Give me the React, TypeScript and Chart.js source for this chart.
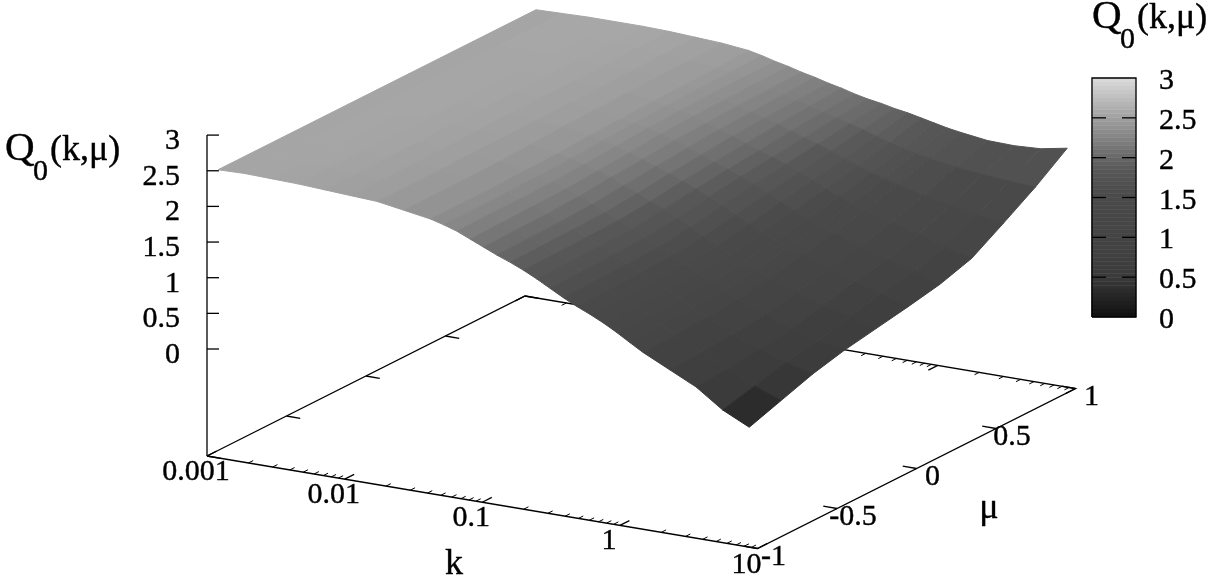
import React from 'react';
import { Chart, registerables } from 'chart.js';

Chart.register(...registerables);

// log10(k) of each grid row and mu of each grid column
const kLog = [-2.92, -2.727, -2.534, -2.341, -2.148, -1.955, -1.762, -1.569, -1.376, -1.28, -1.183, -1.087, -0.99, -0.894, -0.797, -0.7, -0.604, -0.508, -0.411, -0.315, -0.218, -0.12, -0.025, 0.07, 0.168, 0.361, 0.554, 0.747, 0.94];
const muGrid = [-1, -0.8, -0.6, -0.4, -0.2, 0, 0.2, 0.4, 0.6, 0.8, 1];

// Q0(k, mu), one row per kLog entry
const q0 = [
  [2.54, 2.54, 2.54, 2.54, 2.54, 2.54, 2.54, 2.54, 2.54, 2.54, 2.54],
  [2.55, 2.55, 2.55, 2.55, 2.55, 2.55, 2.55, 2.55, 2.55, 2.55, 2.55],
  [2.54, 2.54, 2.54, 2.55, 2.55, 2.55, 2.55, 2.55, 2.56, 2.56, 2.56],
  [2.53, 2.53, 2.54, 2.54, 2.54, 2.55, 2.55, 2.55, 2.55, 2.56, 2.56],
  [2.51, 2.51, 2.52, 2.52, 2.53, 2.53, 2.54, 2.54, 2.55, 2.55, 2.56],
  [2.49, 2.49, 2.5, 2.5, 2.51, 2.52, 2.52, 2.53, 2.53, 2.54, 2.55],
  [2.47, 2.47, 2.47, 2.48, 2.48, 2.49, 2.5, 2.5, 2.51, 2.52, 2.53],
  [2.41, 2.41, 2.41, 2.42, 2.44, 2.46, 2.47, 2.48, 2.49, 2.49, 2.51],
  [2.35, 2.35, 2.35, 2.36, 2.37, 2.4, 2.41, 2.43, 2.44, 2.45, 2.47],
  [2.3, 2.3, 2.31, 2.31, 2.33, 2.36, 2.38, 2.4, 2.41, 2.42, 2.43],
  [2.24, 2.25, 2.25, 2.26, 2.28, 2.31, 2.34, 2.36, 2.37, 2.38, 2.38],
  [2.16, 2.17, 2.18, 2.19, 2.22, 2.25, 2.29, 2.31, 2.32, 2.33, 2.34],
  [2.08, 2.09, 2.1, 2.12, 2.16, 2.19, 2.23, 2.25, 2.27, 2.28, 2.29],
  [2.0, 2.01, 2.02, 2.04, 2.08, 2.12, 2.16, 2.19, 2.21, 2.23, 2.25],
  [1.93, 1.94, 1.95, 1.96, 2.0, 2.05, 2.09, 2.13, 2.16, 2.18, 2.2],
  [1.85, 1.86, 1.87, 1.88, 1.92, 1.98, 2.02, 2.06, 2.1, 2.13, 2.16],
  [1.76, 1.77, 1.78, 1.79, 1.84, 1.9, 1.95, 1.99, 2.04, 2.08, 2.11],
  [1.66, 1.67, 1.68, 1.7, 1.75, 1.82, 1.88, 1.93, 1.98, 2.03, 2.07],
  [1.56, 1.57, 1.58, 1.6, 1.65, 1.73, 1.8, 1.86, 1.92, 1.98, 2.04],
  [1.47, 1.48, 1.49, 1.51, 1.55, 1.63, 1.71, 1.78, 1.85, 1.93, 2.0],
  [1.39, 1.4, 1.41, 1.42, 1.45, 1.53, 1.62, 1.7, 1.78, 1.87, 1.97],
  [1.3, 1.31, 1.32, 1.33, 1.37, 1.45, 1.53, 1.61, 1.71, 1.81, 1.93],
  [1.2, 1.21, 1.22, 1.24, 1.29, 1.37, 1.44, 1.53, 1.64, 1.76, 1.89],
  [1.09, 1.11, 1.12, 1.15, 1.21, 1.3, 1.38, 1.47, 1.59, 1.72, 1.85],
  [0.98, 1, 1.02, 1.06, 1.13, 1.23, 1.31, 1.41, 1.54, 1.68, 1.82],
  [0.8, 0.82, 0.85, 0.9, 0.99, 1.1, 1.19, 1.3, 1.45, 1.62, 1.77],
  [0.62, 0.66, 0.7, 0.77, 0.87, 0.98, 1.07, 1.19, 1.37, 1.58, 1.76],
  [0.36, 0.47, 0.58, 0.67, 0.77, 0.87, 0.96, 1.08, 1.3, 1.55, 1.78],
  [0.18, 0.33, 0.48, 0.59, 0.67, 0.75, 0.84, 0.98, 1.25, 1.53, 1.85],
];

// palette
const paletteZ = [0, 0.5, 1, 1.5, 1.85, 2, 2.5, 3];
const paletteGray = [16, 58, 68, 74, 88, 104, 160, 220];

const zTicks = [0, 0.5, 1, 1.5, 2, 2.5, 3];
const kTicks = [0.001, 0.01, 0.1, 1, 10];
const kMinor = [2, 3, 4, 5, 6, 7, 8, 9];
const muTicks = [-1, -0.5, 0, 0.5, 1];

const serif = '"Liberation Serif", serif';

const gray = (z: number) => {
  let i = 0;
  while (i < paletteZ.length - 2 && z > paletteZ[i + 1]) i++;
  const f = (z - paletteZ[i]) / (paletteZ[i + 1] - paletteZ[i]);
  const g = Math.round(paletteGray[i] + f * (paletteGray[i + 1] - paletteGray[i]));
  return `rgb(${g},${g},${g})`;
};

// gnuplot style view: log k, mu, z to picture pixels
const project = (logK: number, mu: number, z: number) => {
  const t = (logK + 3) / 4;
  const u = (mu + 1) / 2;
  return {
    x: 207 + 550.5 * t + 318 * u,
    y: 349 + 92.5 * t - 160 * u - 71.3 * z,
  };
};
const floor = (logK: number, mu: number) => {
  const p = project(logK, mu, 0);
  return { x: p.x, y: p.y + 107 };
};

const buildDatasets = () => {
  const sets: any[] = [];
  const line = (data: { x: number; y: number }[], width = 1.3) =>
    sets.push({ data, showLine: true, borderColor: '#000', borderWidth: width, pointRadius: 0, fill: false });
  const poly = (data: { x: number; y: number }[], color: string, edge = 1) =>
    sets.push({ data, showLine: true, fill: 'shape', backgroundColor: color, borderColor: color, borderWidth: edge, pointRadius: 0 });

  // floor
  const loop = [floor(-3, -1), floor(1, -1), floor(1, 1), floor(-3, 1), floor(-3, -1)];
  line(loop);
  kTicks.forEach((k, i) => {
    const lk = Math.log10(k);
    line([floor(lk, -1), floor(lk, -0.94)]);
    line([floor(lk, 1), floor(lk, 0.94)]);
    if (i === kTicks.length - 1) return;
    kMinor.forEach((m) => {
      const mk = lk + Math.log10(m);
      line([floor(mk, -1), floor(mk, -0.97)], 1);
      line([floor(mk, 1), floor(mk, 0.97)], 1);
    });
  });
  muTicks.forEach((mu) => {
    line([floor(-3, mu), floor(-2.9, mu)]);
    line([floor(1, mu), floor(0.9, mu)]);
  });

  // z axis
  line([floor(-3, -1), project(-3, -1, 3)]);
  zTicks.forEach((z) => line([project(-3, -1, z), { x: project(-3, -1, z).x + 12, y: project(-3, -1, z).y }]));

  // surface, back to front
  for (let j = muGrid.length - 2; j >= 0; j--) {
    for (let i = 0; i < kLog.length - 1; i++) {
      const a = q0[i][j], b = q0[i + 1][j], c = q0[i + 1][j + 1], d = q0[i][j + 1];
      const p0 = project(kLog[i], muGrid[j], a);
      poly(
        [p0, project(kLog[i + 1], muGrid[j], b), project(kLog[i + 1], muGrid[j + 1], c), project(kLog[i], muGrid[j + 1], d), p0],
        gray((a + b + c + d) / 4),
      );
    }
  }

  // colour box
  const boxY = (z: number) => 317 - (239 / 3) * z;
  for (let s = 0; s < 60; s++) {
    const z0 = s * 0.05;
    const z1 = z0 + 0.05;
    const p = { x: 1092, y: boxY(z0) };
    poly([p, { x: 1136, y: boxY(z0) }, { x: 1136, y: boxY(z1) }, { x: 1092, y: boxY(z1) }, p], gray(z0 + 0.025), 0.6);
  }
  line([{ x: 1092, y: boxY(0) }, { x: 1136, y: boxY(0) }, { x: 1136, y: boxY(3) }, { x: 1092, y: boxY(3) }, { x: 1092, y: boxY(0) }]);
  zTicks.slice(1, -1).forEach((z) => {
    line([{ x: 1092, y: boxY(z) }, { x: 1106, y: boxY(z) }]);
    line([{ x: 1122, y: boxY(z) }, { x: 1136, y: boxY(z) }]);
  });

  // later entries go on top
  sets.forEach((s, i) => { s.order = sets.length - i; });
  return sets;
};

const textPlugin = {
  id: 'plotText',
  afterDraw(chart: any) {
    const { ctx, scales } = chart;
    const put = (s: string, x: number, y: number, size: number, align: CanvasTextAlign = 'center') => {
      const px = scales.x.getPixelForValue(x);
      const py = scales.y.getPixelForValue(y);
      ctx.font = `${size}px ${serif}`;
      ctx.textAlign = align;
      ctx.textBaseline = 'alphabetic';
      ctx.fillStyle = '#000';
      ctx.strokeStyle = '#000';
      ctx.lineWidth = 0.4;
      ctx.fillText(s, px, py);
      ctx.strokeText(s, px, py);
    };
    const title = (x: number, y: number) => {
      put('Q', x, y, 41, 'left');
      put('0', x + 28, y + 20, 30, 'left');
      put('(k,μ)', x + 45, y, 36, 'left');
    };
    ctx.save();
    zTicks.forEach((z) => put(String(z), 180, project(-3, -1, z).y + 14, 30, 'right'));
    kTicks.forEach((k) => {
      const p = floor(Math.log10(k), -1);
      put(String(k), p.x - 11, p.y + 24, 30);
    });
    muTicks.forEach((mu) => {
      const p = floor(1, mu);
      put(String(mu), p.x + 16, p.y + 16, 30);
    });
    zTicks.forEach((z) => put(String(z), 1159, 317 - (239 / 3) * z + 11, 30, 'left'));
    put('k', 454, 574, 36);
    put('μ', 989, 518, 36);
    title(5, 160);
    title(1092, 28);
    ctx.restore();
  },
};

export default function App() {
  const chartRef = React.useRef<HTMLCanvasElement>(null);

  React.useEffect(() => {
    if (!chartRef.current) return;
    document.body.style.margin = '0';
    const chart = new Chart(chartRef.current, {
      type: 'scatter',
      data: { datasets: buildDatasets() },
      options: {
        animation: false,
        responsive: false,
        devicePixelRatio: 1,
        layout: { padding: 0 },
        plugins: { legend: { display: false }, tooltip: { enabled: false } },
        scales: {
          x: { type: 'linear', display: false, min: 0, max: 1210 },
          y: { type: 'linear', display: false, min: 0, max: 579, reverse: true },
        },
      },
      plugins: [textPlugin],
    });
    return () => chart.destroy();
  }, []);

  return <canvas ref={chartRef} width={1210} height={579} style={{ display: 'block' }} />;
}
